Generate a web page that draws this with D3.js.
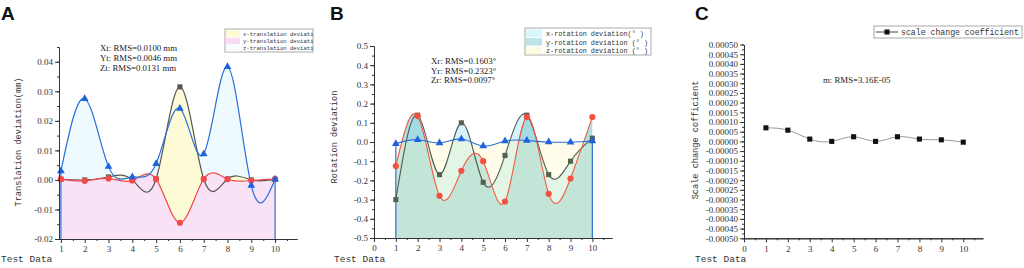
<!DOCTYPE html>
<html>
<head>
<meta charset="utf-8">
<script src="https://cdn.jsdelivr.net/npm/d3@7"></script>
<style>
  body { margin: 0; background: #fff; }
  svg { display: block; }
  .tick text { font-family: "Liberation Serif", serif; font-size: 9px; fill: #333; }
  .axis path, .axis line { stroke: #333; }
  .mono { font-family: "Liberation Mono", "DejaVu Sans Mono", monospace; fill: #333; }
  .serif { font-family: "Liberation Serif", serif; fill: #222; }
</style>
</head>
<body>
<svg id="chart" width="1024" height="268"></svg>
<script>
// test data index (x)
var testData = [1, 2, 3, 4, 5, 6, 7, 8, 9, 10]

// panel A: translation deviation (mm)
var xTrans = [0.0002, 0.0000, 0.0010, 0.0000, 0.0003, 0.0315, 0.0003, 0.0003, 0.0000, 0.0002]
var yTrans = [0.0003, -0.0003, 0.0005, -0.0002, 0.0003, -0.0145, 0.0003, 0.0003, -0.0002, 0.0003]
var zTrans = [0.0030, 0.0275, 0.0045, 0.0010, 0.0055, 0.0242, 0.0088, 0.0383, -0.0019, 0.0002]
var transNames = ['x-translation deviation', 'y-translation deviation', 'z-translation deviation']
var transRms = ['Xt: RMS=0.0100 mm', 'Yt: RMS=0.0046 mm', 'Zt: RMS=0.0131 mm']
var transTicks = [-0.02, -0.01, 0, 0.01, 0.02, 0.03, 0.04]

// panel B: rotation deviation (deg)
var xRot = [-0.30, 0.14, -0.17, 0.10, -0.21, -0.07, 0.14, -0.17, -0.10, 0.02]
var yRot = [-0.125, 0.135, -0.28, -0.15, -0.10, -0.31, 0.13, -0.27, -0.19, 0.13]
var zRot = [-0.009, 0.012, -0.005, 0.016, -0.021, 0.005, 0.008, 0.0, -0.001, 0.005]
var rotNames = ['x-rotation deviation(\u00b0 )', 'y-rotation deviation (\u00b0 )', 'z-rotation deviation (\u00b0 )']
var rotRms = ['Xr: RMS=0.1603\u00b0', 'Yr: RMS=0.2323\u00b0', 'Zr: RMS=0.0097\u00b0']
var rotTicks = [-0.5, -0.4, -0.3, -0.2, -0.1, 0, 0.1, 0.2, 0.3, 0.4, 0.5]

// panel C: scale change coefficient
var scaleCoef = [7.0e-5, 5.8e-5, 1.2e-5, 0.0, 2.4e-5, 0.0, 2.4e-5, 1.2e-5, 0.8e-5, -0.4e-5]
var scaleName = 'scale change coefficient'
var scaleRms = 'm: RMS=3.16E-05'
var scaleTicks = d3.range(-10, 11).map(d => d * 0.00005)

var svg = d3.select('#chart')
var curve = d3.curveNatural

function fmt(f) {
  return d => d3.format(f)(d).replace('\u2212', '-')
}

function drawAxes(g, x, y, o) {
  // y axis
  g.append('g').attr('class', 'axis').attr('transform', `translate(${o.x0},0)`)
    .call(d3.axisLeft(y).tickValues(o.minorY).tickSize(2).tickFormat('').tickSizeOuter(0))
  g.append('g').attr('class', 'axis').attr('transform', `translate(${o.x0},0)`)
    .call(d3.axisLeft(y).tickValues(o.yTicks).tickSize(4).tickPadding(2).tickFormat(fmt(o.yFmt)).tickSizeOuter(0))
  // x axis
  g.append('g').attr('class', 'axis').attr('transform', `translate(0,${o.y0})`)
    .call(d3.axisBottom(x).tickValues(o.minorX).tickSize(2).tickFormat('').tickSizeOuter(0))
  g.append('g').attr('class', 'axis').attr('transform', `translate(0,${o.y0})`)
    .call(d3.axisBottom(x).tickValues(o.xTicks).tickSize(4).tickPadding(3).tickFormat(d3.format('d')).tickSizeOuter(0))
  g.selectAll('.axis .domain').attr('stroke', '#333')

  g.append('text').attr('class', 'mono').text('Test Data')
    .attr('x', o.testX).attr('y', 262).attr('font-size', '9.5px')
  g.append('text').attr('class', 'mono').text(o.yTitle)
    .attr('transform', `translate(${o.titleX},${o.titleY}) rotate(-90)`)
    .attr('text-anchor', 'middle').attr('font-size', '8.6px')
  g.append('text').text(o.letter)
    .attr('x', o.letterX).attr('y', 20)
    .attr('font-family', 'Liberation Sans, Arial, sans-serif')
    .attr('font-weight', 'bold').attr('font-size', '19px').attr('fill', '#111')
}

function marker(g, type, data, x, y, color) {
  var sym = {square: d3.symbolSquare, circle: d3.symbolCircle, triangle: d3.symbolTriangle}[type]
  var size = {square: 26, circle: 30, triangle: 26}[type]
  g.append('g').selectAll('path').data(data).enter().append('path')
    .attr('d', d3.symbol().type(sym).size(size))
    .attr('transform', (d, i) => `translate(${x(testData[i])},${y(d)})`)
    .attr('fill', color)
}

// ---------- panel A ----------
;(function() {
  var g = svg.append('g')
  var x = d3.scaleLinear().domain([0.92, 10.92]).range([59, 297])
  var y = d3.scaleLinear().domain([-0.02, 0.045]).range([239, 47])
  var series = [
    {v: zTrans, fill: '#eefafd', line: '#2a6fdb', mk: 'triangle', mc: '#1f63dc'},
    {v: xTrans, fill: '#fdfbd6', line: '#555555', mk: 'square', mc: '#555555'},
    {v: yTrans, fill: '#f9e2f5', line: '#f04848', mk: 'circle', mc: '#f24a4a'}
  ]
  series.forEach(function(s) {
    var area = d3.area().curve(curve).x((d, i) => x(testData[i])).y0(y(-0.02)).y1(d => y(d))
    g.append('path').attr('d', area(s.v)).attr('fill', s.fill)
  })
  // edges of the z area
  ;[0, 9].forEach(function(i) {
    g.append('line').attr('x1', x(testData[i])).attr('x2', x(testData[i]))
      .attr('y1', y(-0.02)).attr('y2', y(zTrans[i])).attr('stroke', '#2a6fdb').attr('stroke-width', 1.2)
  })
  var order = [series[1], series[2], series[0]]
  order.forEach(function(s) {
    var line = d3.line().curve(curve).x((d, i) => x(testData[i])).y(d => y(d))
    g.append('path').attr('d', line(s.v)).attr('fill', 'none').attr('stroke', s.line).attr('stroke-width', 1.2)
  })
  order.forEach(s => marker(g, s.mk, s.v, x, y, s.mc))

  drawAxes(g, x, y, {
    x0: 59, y0: 239, yTicks: transTicks, yFmt: '.2f',
    minorY: d3.range(-4, 10).map(d => d * 0.005),
    xTicks: testData, minorX: d3.range(1, 11).map(d => d + 0.5),
    testX: 1, yTitle: 'Translation deviation(mm)', titleX: 21, titleY: 142,
    letter: 'A', letterX: 1
  })

  transRms.forEach(function(t, i) {
    g.append('text').attr('class', 'serif').text(t).attr('x', 100).attr('y', 51 + i * 10.2).attr('font-size', '8.8px')
  })
  // legend (clipped at box edge)
  var lg = g.append('g')
  svg.append('clipPath').attr('id', 'clipA').append('rect').attr('x', 225).attr('y', 29).attr('width', 88).attr('height', 23)
  lg.append('rect').attr('x', 225).attr('y', 29).attr('width', 88).attr('height', 23)
    .attr('fill', '#fff').attr('stroke', '#aaa')
  var legFill = ['#fdfbd2', '#fbdaf6', '#f7fcfe']
  transNames.forEach(function(t, i) {
    lg.append('rect').attr('x', 226).attr('y', 30.5 + i * 7.2).attr('width', 14).attr('height', 6.5).attr('fill', legFill[i])
    lg.append('text').attr('class', 'mono').attr('clip-path', 'url(#clipA)')
      .text(t).attr('x', 243).attr('y', 36 + i * 7.2).attr('font-size', '5.6px')
  })
})()

// ---------- panel B ----------
;(function() {
  var g = svg.append('g')
  var x = d3.scaleLinear().domain([0, 10.9]).range([374, 612])
  var y = d3.scaleLinear().domain([-0.5, 0.5]).range([238, 46])
  var series = [
    {v: xRot, fill: '#d5f3f9', op: 1, legend: '#d9f6fb', line: '#4f5a50', mk: 'square', mc: '#56604f'},
    {v: yRot, fill: '#8fd0dc', op: 0.7, legend: '#bde4e8', line: '#f25a40', mk: 'circle', mc: '#f5503f'},
    {v: zRot, fill: '#fffac0', op: 0.35, legend: '#fdfbe2', line: '#2a6fdb', mk: 'triangle', mc: '#1f63dc'}
  ]
  series.forEach(function(s) {
    var area = d3.area().curve(curve).x((d, i) => x(testData[i])).y0(y(-0.5)).y1(d => y(d))
    g.append('path').attr('d', area(s.v)).attr('fill', s.fill).attr('fill-opacity', s.op)
  })
  ;[0, 9].forEach(function(i) {
    g.append('line').attr('x1', x(testData[i])).attr('x2', x(testData[i]))
      .attr('y1', y(-0.5)).attr('y2', y(zRot[i])).attr('stroke', '#2a6fdb').attr('stroke-width', 1.2)
  })
  series.forEach(function(s) {
    var line = d3.line().curve(curve).x((d, i) => x(testData[i])).y(d => y(d))
    g.append('path').attr('d', line(s.v)).attr('fill', 'none').attr('stroke', s.line).attr('stroke-width', 1.1)
  })
  series.forEach(s => marker(g, s.mk, s.v, x, y, s.mc))

  drawAxes(g, x, y, {
    x0: 374, y0: 238, yTicks: rotTicks, yFmt: '.1f',
    minorY: d3.range(-10, 10).map(d => d * 0.05),
    xTicks: d3.range(0, 11), minorX: d3.range(0, 11).map(d => d + 0.5),
    testX: 334, yTitle: 'Rotation deviation', titleX: 337, titleY: 137,
    letter: 'B', letterX: 330
  })

  rotRms.forEach(function(t, i) {
    g.append('text').attr('class', 'serif').text(t).attr('x', 431).attr('y', 64 + i * 9.6).attr('font-size', '8.8px')
  })
  var lg = g.append('g')
  lg.append('rect').attr('x', 525).attr('y', 28).attr('width', 126).attr('height', 27)
    .attr('fill', '#fff').attr('stroke', '#aaa')
  rotNames.forEach(function(t, i) {
    lg.append('rect').attr('x', 526).attr('y', 29.5 + i * 8.6).attr('width', 16).attr('height', 7.5).attr('fill', series[i].legend)
    lg.append('text').attr('class', 'mono').text(t).attr('x', 546).attr('y', 36 + i * 8.6).attr('font-size', '6.8px')
  })
})()

// ---------- panel C ----------
;(function() {
  var g = svg.append('g')
  var x = d3.scaleLinear().domain([0, 10.9]).range([744, 983])
  var y = d3.scaleLinear().domain([-0.0005, 0.0005]).range([238.3, 44.5])
  var line = d3.line().curve(curve).x((d, i) => x(testData[i])).y(d => y(d))
  g.append('path').attr('d', line(scaleCoef)).attr('fill', 'none').attr('stroke', '#999').attr('stroke-width', 1)
  marker(g, 'square', scaleCoef, x, y, '#111')

  drawAxes(g, x, y, {
    x0: 744, y0: 238.3, yTicks: scaleTicks, yFmt: '.5f',
    minorY: d3.range(-20, 21).map(d => d * 0.000025),
    xTicks: d3.range(0, 11), minorX: d3.range(0, 11).map(d => d + 0.5),
    testX: 695, yTitle: 'Scale change cofficient', titleX: 698, titleY: 140,
    letter: 'C', letterX: 695
  })

  g.append('text').attr('class', 'serif').text(scaleRms).attr('x', 823).attr('y', 83).attr('font-size', '8.8px')
  var lg = g.append('g')
  lg.append('rect').attr('x', 874).attr('y', 26).attr('width', 148).attr('height', 12)
    .attr('fill', '#fff').attr('stroke', '#aaa')
  lg.append('line').attr('x1', 876).attr('x2', 898).attr('y1', 32).attr('y2', 32).attr('stroke', '#444')
  lg.append('path').attr('d', d3.symbol().type(d3.symbolSquare).size(26)).attr('transform', 'translate(887,32)').attr('fill', '#111')
  lg.append('text').attr('class', 'mono').text(scaleName).attr('x', 901).attr('y', 35).attr('font-size', '8.2px')
})()
</script>
</body>
</html>
